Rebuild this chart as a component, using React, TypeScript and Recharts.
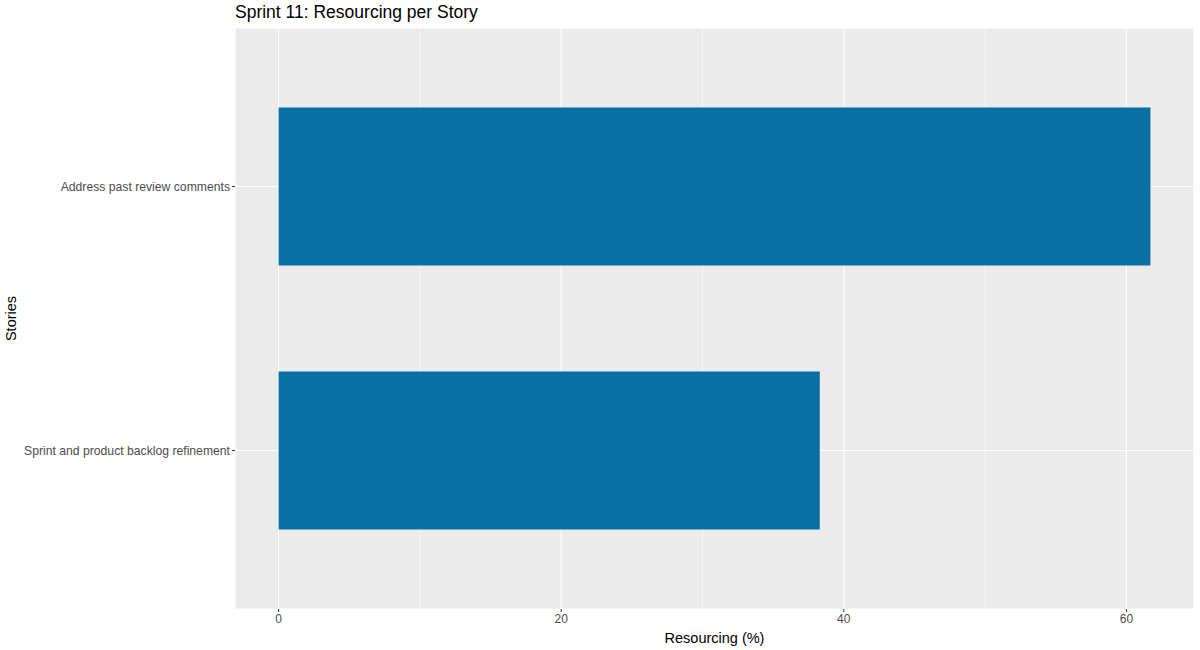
import { BarChart, Bar, XAxis, YAxis, CartesianGrid } from 'recharts'

const stories = ['Address past review comments', 'Sprint and product backlog refinement']
const resourcing = [61.7, 38.3]
const xTicks = [0, 20, 40, 60]
const minorTicks = [10, 30, 50]
const xDomain = [-3.085, 64.785]

const data = stories.map((story, i) => ({ story, value: resourcing[i] }))

const font = '"Liberation Sans", Arial, Helvetica, sans-serif'

// single-line category label (the default tick wraps long text)
const StoryTick = (props: any) => {
  const { x, y, payload } = props
  return (
    <text x={x} y={y} dy="0.355em" textAnchor="end" fill="#4D4D4D" fontSize={12.2} fontFamily={font}>
      {payload.value}
    </text>
  )
}

export default function App() {
  return (
    <div style={{ position: 'absolute', left: 0, top: 0, width: 1200, height: 650, fontFamily: font, background: '#fff' }}>
      <div style={{ position: 'absolute', left: 235, top: 2, fontSize: 17.5, color: '#000', whiteSpace: 'nowrap' }}>
        Sprint 11: Resourcing per Story
      </div>
      <BarChart
        width={1200}
        height={650}
        data={data}
        layout="vertical"
        margin={{ top: 28, right: 6, bottom: 0, left: 0 }}
      >
        <CartesianGrid xAxisId="main" fill="#EBEBEB" stroke="#FFFFFF" strokeWidth={1.1} />
        <CartesianGrid xAxisId="minor" horizontal={false} stroke="#FFFFFF" strokeWidth={0.55} />
        <XAxis
          xAxisId="main"
          type="number"
          domain={xDomain}
          allowDataOverflow
          ticks={xTicks}
          height={41}
          axisLine={false}
          tickSize={3}
          tickMargin={2}
          tickLine={{ stroke: '#333333' }}
          tick={{ fill: '#4D4D4D', fontSize: 12, fontFamily: font }}
          label={{ value: 'Resourcing (%)', position: 'insideBottom', offset: 7, fill: '#000', fontSize: 14.5, fontFamily: font }}
        />
        <XAxis xAxisId="minor" type="number" domain={xDomain} allowDataOverflow ticks={minorTicks} hide />
        <YAxis
          type="category"
          dataKey="story"
          width={235}
          padding={{ top: 26.5, bottom: 26.5 }}
          axisLine={false}
          tickSize={3}
          tickMargin={2}
          tickLine={{ stroke: '#333333' }}
          tick={<StoryTick />}
          label={{
            value: 'Stories',
            angle: -90,
            position: 'insideLeft',
            offset: 11,
            textAnchor: 'middle',
            fill: '#000',
            fontSize: 14.5,
            fontFamily: font,
          }}
        />
        <Bar xAxisId="main" dataKey="value" fill="#0870A3" barSize={158} isAnimationActive={false} />
      </BarChart>
    </div>
  )
}
